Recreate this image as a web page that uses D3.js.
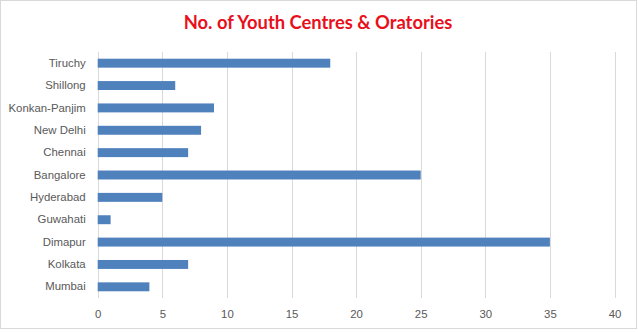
<!DOCTYPE html>
<html>
<head>
<meta charset="utf-8">
<script src="https://cdn.jsdelivr.net/npm/d3@7"></script>
<style>
  body { margin: 0; background: #fff; }
  svg { display: block; font-family: Lato, "Open Sans", sans-serif; }
</style>
</head>
<body>
<svg id="chart" width="638" height="332"></svg>
<script>
// data, top to bottom
const centres = ['Tiruchy', 'Shillong', 'Konkan-Panjim', 'New Delhi', 'Chennai', 'Bangalore', 'Hyderabad', 'Guwahati', 'Dimapur', 'Kolkata', 'Mumbai'];
const counts = [18, 6, 9, 8, 7, 25, 5, 1, 35, 7, 4];
const xTicks = [0, 5, 10, 15, 20, 25, 30, 35, 40];

const svg = d3.select('#chart');
const margin = { top: 52, right: 23.5, bottom: 34, left: 97.7 };
const W = 638;
const H = 332;

// outer frame
svg.append('rect')
    .attr('x', 0.5).attr('y', 0.5)
    .attr('width', 636).attr('height', 328)
    .attr('fill', '#fff')
    .attr('stroke', '#d9d9d9');

const x = d3.scaleLinear().domain([0, 40]).range([margin.left, W - margin.right]);
const y = d3.scaleBand().domain(centres).range([margin.top, H - margin.bottom]).paddingInner(0.6).paddingOuter(0.3);

// vertical gridlines
svg.append('g')
    .selectAll('line')
    .data(xTicks)
    .join('line')
    .attr('x1', (d) => Math.round(x(d)) + 0.5)
    .attr('x2', (d) => Math.round(x(d)) + 0.5)
    .attr('y1', margin.top)
    .attr('y2', H - margin.bottom)
    .attr('stroke', '#d9d9d9');

// bars
svg.append('g')
    .selectAll('rect')
    .data(counts)
    .join('rect')
    .attr('x', x(0))
    .attr('y', (d, i) => y(centres[i]))
    .attr('width', (d) => x(d) - x(0))
    .attr('height', y.bandwidth())
    .attr('fill', '#4f81bd');

// category axis
const yAxis = svg.append('g')
    .attr('transform', `translate(${margin.left},0)`)
    .call(d3.axisLeft(y).tickSize(0).tickPadding(12));
yAxis.select('.domain').remove();
yAxis.selectAll('text')
    .attr('fill', '#595959')
    .style('font-size', '11.4px');

// value axis
const xAxis = svg.append('g')
    .attr('transform', `translate(0,${H - margin.bottom})`)
    .call(d3.axisBottom(x).tickValues(xTicks).tickSize(0).tickPadding(12));
xAxis.select('.domain').remove();
xAxis.selectAll('text')
    .attr('fill', '#595959')
    .style('font-size', '11.4px');

// title, fit to the width seen in the reference
const title = svg.append('text')
    .attr('x', 318)
    .attr('y', 29)
    .attr('text-anchor', 'middle')
    .attr('fill', '#e8101b')
    .style('font-weight', 'bold')
    .style('font-size', '18px')
    .text('No. of Youth Centres & Oratories');
const tw = title.node().getComputedTextLength();
title.style('font-size', `${(18 * 269 / tw).toFixed(2)}px`);
</script>
</body>
</html>
